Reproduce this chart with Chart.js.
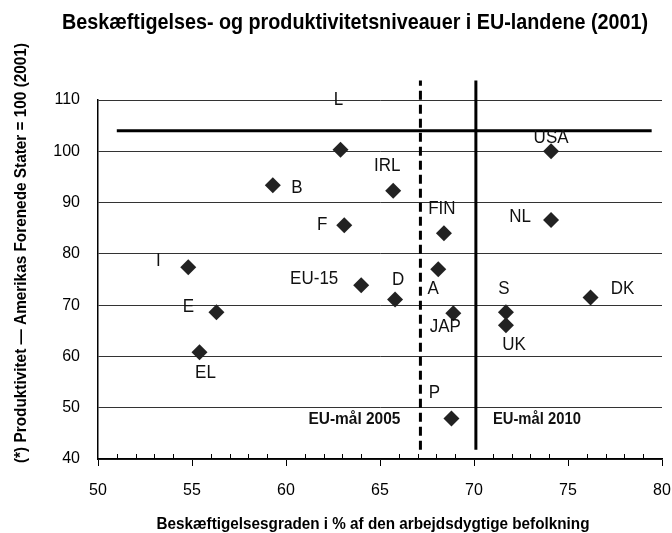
<!DOCTYPE html>
<html>
<head>
<meta charset="utf-8">
<script src="https://cdn.jsdelivr.net/npm/chart.js@4.4.1/dist/chart.umd.min.js"></script>
<style>
  body { margin: 0; background: #fff; }
</style>
</head>
<body>
<canvas id="levels" width="672" height="533"></canvas>
<script>
// data
var countries = ['L', 'USA', 'B', 'IRL', 'F', 'FIN', 'NL', 'I', 'A', 'EU-15', 'D', 'DK', 'S', 'UK', 'JAP', 'E', 'EL', 'P'];
var employment = [62.9, 74.1, 59.3, 65.7, 63.1, 68.4, 74.1, 54.8, 68.1, 64.0, 65.8, 76.2, 71.7, 71.7, 68.9, 56.3, 55.4, 68.8];
var productivity = [100.3, 100, 93.4, 92.3, 85.6, 84.0, 86.6, 77.4, 77.0, 73.9, 71.1, 71.5, 68.6, 66.1, 68.4, 68.6, 60.8, 47.9];

// reference lines
var usLevelX = [51, 79.45];
var usLevelY = [104, 104];
var target2005X = [67.15, 67.15];
var target2010X = [70.1, 70.1];
var targetLineY = [41.8, 113.8];
var targetNames = ['EU-mål 2005', 'EU-mål 2010'];
var targetLabelY = 47.7;

var chartTitle = 'Beskæftigelses- og produktivitetsniveauer i EU-landene (2001)';
var xTitle = 'Beskæftigelsesgraden i % af den arbejdsdygtige befolkning';
var yTitle = '(*) Produktivitet \u2014 Amerikas Forenede Stater = 100 (2001)';

// label placement next to each diamond (px)
var labelOffsets = [[-2, -50], [0, -14], [24, 3], [-6, -25], [-22, 0], [-2, -25], [-31, -3], [-30, -6], [-5, 20],
  [-47, -6], [3, -20], [32, -9], [-2, -24], [8, 20], [-8, 13], [-28, -6], [6, 20], [-17, -26]];

var SANS = '"Liberation Sans", Arial, sans-serif';

function pairs(xs, ys) {
  return xs.map(function(x, i) { return { x: x, y: ys[i] }; });
}

// the original uses a condensed bold face; squeeze the regular one to the same width
function fittedText(ctx, text, x, y, width, align) {
  var w = ctx.measureText(text).width;
  var left = align === 'right' ? x - width : (align === 'left' ? x : x - width / 2);
  ctx.save();
  ctx.textAlign = 'left';
  ctx.translate(left, y);
  ctx.scale(width / w, 1);
  ctx.fillText(text, 0, 0);
  ctx.restore();
}

var textPlugin = {
  id: 'textPlugin',
  afterDraw: function(chart) {
    var ctx = chart.ctx;
    var xs = chart.scales.x, ys = chart.scales.y;
    var area = chart.chartArea;
    ctx.save();

    // minor ticks on x axis (inside)
    ctx.strokeStyle = '#000';
    ctx.lineWidth = 1;
    for (var v = xs.min + 1; v < xs.max; v++) {
      if (v % 5 === 0) continue;
      var px = Math.round(xs.getPixelForValue(v)) + 0.5;
      ctx.beginPath();
      ctx.moveTo(px, area.bottom);
      ctx.lineTo(px, area.bottom - 5);
      ctx.stroke();
    }

    // country labels (a little taller than wide, as in the original)
    ctx.fillStyle = '#111';
    ctx.font = '17px ' + SANS;
    ctx.textAlign = 'center';
    ctx.textBaseline = 'middle';
    var meta = chart.getDatasetMeta(0);
    meta.data.forEach(function(pt, i) {
      ctx.save();
      ctx.translate(pt.x + labelOffsets[i][0], pt.y + labelOffsets[i][1]);
      ctx.scale(1, 1.12);
      ctx.fillText(countries[i], 0, 0);
      ctx.restore();
    });

    // target labels
    ctx.font = 'bold 17px ' + SANS;
    var ty = ys.getPixelForValue(targetLabelY);
    fittedText(ctx, targetNames[0], xs.getPixelForValue(target2005X[0]) - 20, ty, 92, 'right');
    fittedText(ctx, targetNames[1], xs.getPixelForValue(target2010X[0]) + 17, ty, 88, 'left');

    // titles
    ctx.fillStyle = '#000';
    ctx.font = 'bold 22px ' + SANS;
    fittedText(ctx, chartTitle, 355, 23, 586, 'center');
    ctx.font = 'bold 17px ' + SANS;
    fittedText(ctx, xTitle, 373, 524, 433, 'center');
    ctx.font = 'bold 16px ' + SANS;
    ctx.translate(22, 253);
    ctx.rotate(-Math.PI / 2);
    fittedText(ctx, yTitle, 0, 0, 420, 'center');
    ctx.restore();
  }
};

var lineStyle = {
  showLine: true,
  borderColor: '#000',
  borderWidth: 3,
  pointRadius: 0,
  fill: false,
  clip: false
};

new Chart(document.getElementById('levels'), {
  type: 'scatter',
  data: {
    datasets: [
      {
        label: 'Lande',
        data: pairs(employment, productivity),
        pointStyle: 'rectRot',
        pointRadius: 8,
        pointHoverRadius: 8,
        backgroundColor: '#222',
        borderColor: '#222',
        borderWidth: 0
      },
      Object.assign({ label: 'USA', data: pairs(usLevelX, usLevelY) }, lineStyle),
      Object.assign({ label: 'EU-mål 2005', data: pairs(target2005X, targetLineY), borderDash: [9, 5] }, lineStyle),
      Object.assign({ label: 'EU-mål 2010', data: pairs(target2010X, targetLineY) }, lineStyle)
    ]
  },
  options: {
    responsive: false,
    animation: false,
    layout: { padding: { top: 100, right: 10, left: 0, bottom: 0 } },
    plugins: {
      legend: { display: false },
      tooltip: { enabled: false }
    },
    scales: {
      x: {
        type: 'linear',
        min: 50,
        max: 80,
        ticks: { stepSize: 5, color: '#000', font: { family: SANS, size: 16 }, padding: 15 },
        grid: { drawOnChartArea: false, drawTicks: true, tickLength: 7, color: '#000' },
        border: { display: true, color: '#000', width: 1.5 },
        afterFit: function(s) {
          s.height = 74;
          s.paddingLeft = 0;
          s.paddingRight = 10;
        }
      },
      y: {
        min: 40,
        max: 110,
        ticks: { stepSize: 10, color: '#000', font: { family: SANS, size: 16 }, padding: 18 },
        grid: { drawTicks: false, color: '#333', lineWidth: 1 },
        border: { display: true, color: '#000', width: 1.5 },
        afterFit: function(s) { s.width = 98; }
      }
    }
  },
  plugins: [textPlugin]
});
</script>
</body>
</html>
